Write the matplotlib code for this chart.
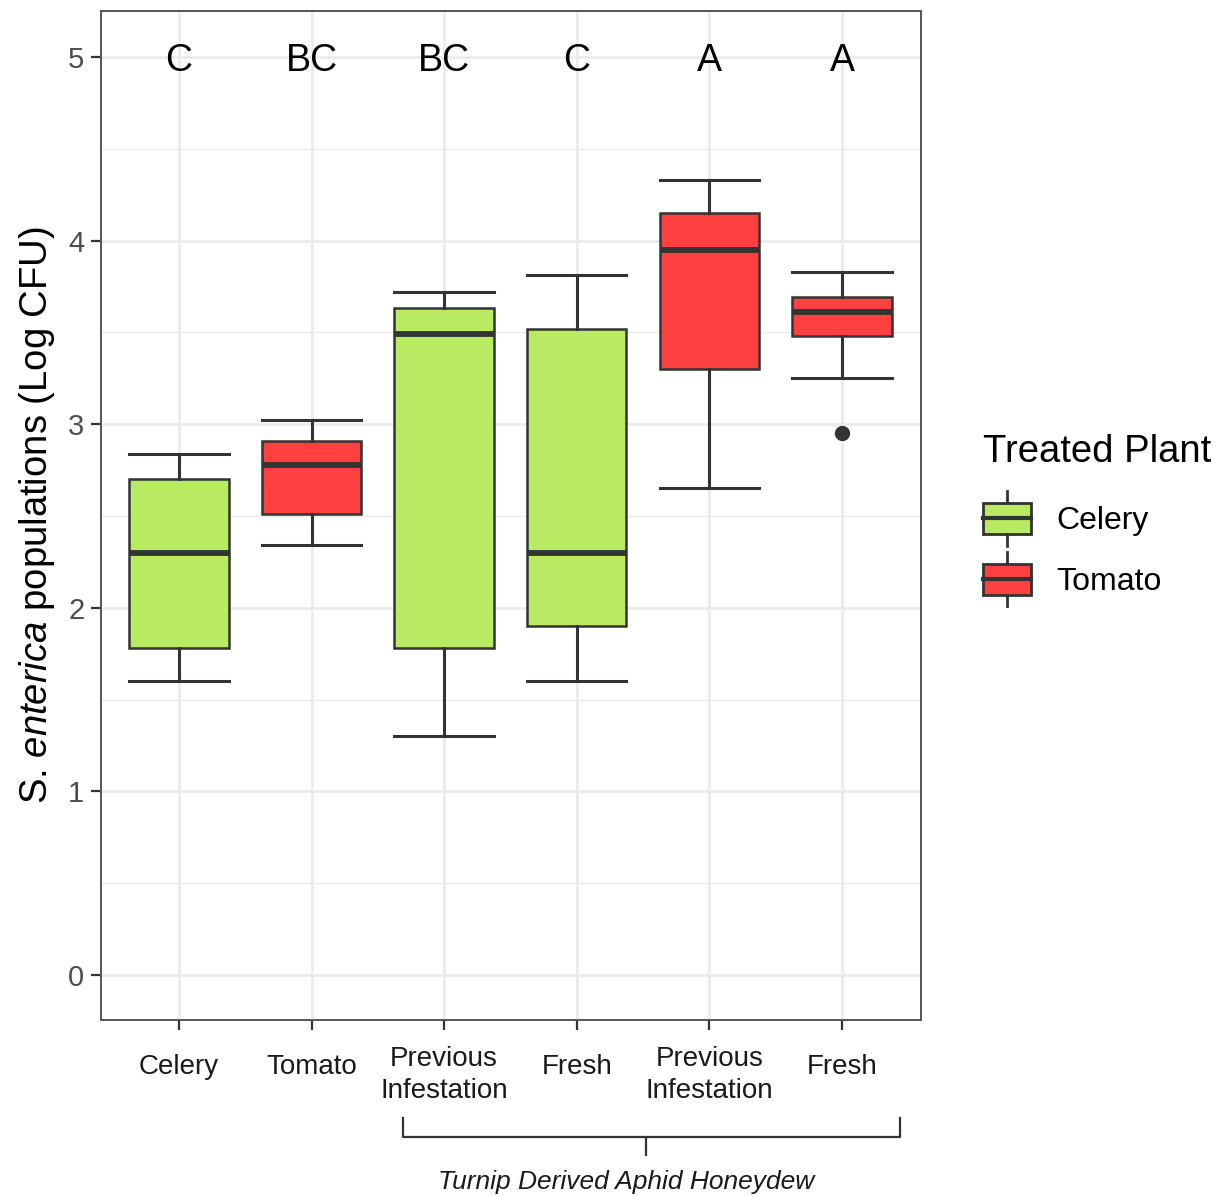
import matplotlib
matplotlib.use("Agg")
import matplotlib.pyplot as plt
from matplotlib.legend_handler import HandlerBase
from matplotlib.patches import Rectangle
from matplotlib.lines import Line2D
from matplotlib.transforms import ScaledTranslation

plt.rcParams['font.family'] = ['Liberation Sans', 'DejaVu Sans']
plt.rcParams['mathtext.fontset'] = 'custom'
plt.rcParams['mathtext.rm'] = 'Liberation Sans'
plt.rcParams['mathtext.it'] = 'Liberation Sans:italic'

# five-number summaries per treatment group
groups = ["Celery", "Tomato", "Previous\nInfestation", "Fresh", "Previous\nInfestation", "Fresh"]
plant = ["Celery", "Tomato", "Celery", "Celery", "Tomato", "Tomato"]
whislo = [1.60, 2.34, 1.30, 1.60, 2.65, 3.25]
q1 = [1.78, 2.51, 1.78, 1.90, 3.30, 3.48]
med = [2.30, 2.78, 3.49, 2.30, 3.95, 3.61]
q3 = [2.70, 2.91, 3.63, 3.52, 4.15, 3.69]
whishi = [2.84, 3.02, 3.72, 3.81, 4.33, 3.83]
fliers = [[], [], [], [], [], [2.95]]
letters = ["C", "BC", "BC", "C", "A", "A"]

COLORS = {"Celery": "#B8EB62", "Tomato": "#FF4040"}
EDGE = "#333333"

fig = plt.figure(figsize=(12.17, 11.96), dpi=100)
ax = fig.add_axes([101 / 1217, 1 - 1020 / 1196, 820 / 1217, 1009 / 1196])

pos = list(range(1, len(groups) + 1))
stats = [dict(med=m, q1=a, q3=b, whislo=lo, whishi=hi, fliers=f)
         for m, a, b, lo, hi, f in zip(med, q1, q3, whislo, whishi, fliers)]

bp = ax.bxp(stats, positions=pos, widths=0.75, capwidths=0.75, patch_artist=True,
            boxprops=dict(edgecolor=EDGE, linewidth=1.8),
            medianprops=dict(color=EDGE, linewidth=4.2, solid_capstyle='butt'),
            whiskerprops=dict(color=EDGE, linewidth=2.2),
            capprops=dict(color=EDGE, linewidth=2.2),
            flierprops=dict(marker='o', markersize=10, markerfacecolor=EDGE,
                            markeredgecolor=EDGE),
            zorder=3)
for box, p in zip(bp['boxes'], plant):
    box.set_facecolor(COLORS[p])

# significance letters
for x, lab in zip(pos, letters):
    ax.text(x, 5, lab, ha='center', va='center_baseline', fontsize=27, color='black')

ax.set_xlim(0.412, 6.596)
ax.set_ylim(-0.245, 5.25)
ax.set_yticks([0, 1, 2, 3, 4, 5])
ax.set_yticks([0.5, 1.5, 2.5, 3.5, 4.5], minor=True)
ax.set_xticks(pos)
ax.set_xticklabels(groups, fontsize=20, color='#1A1A1A', linespacing=1.3,
                   va='center')
ax.tick_params(axis='y', labelsize=21, labelcolor='#4D4D4D', color=EDGE,
               length=7, width=1.6, pad=5)
ax.tick_params(axis='y', which='minor', length=0)
ax.tick_params(axis='x', color=EDGE, length=7, width=1.6, pad=27)
# two-line labels sit a little lower
for lab in ax.get_xticklabels():
    if "\n" in lab.get_text():
        lab.set_transform(lab.get_transform() +
                          ScaledTranslation(0, -0.08, fig.dpi_scale_trans))

ax.grid(True, which='major', color='#EBEBEB', linewidth=2.0, zorder=0)
ax.grid(True, which='minor', axis='y', color='#EBEBEB', linewidth=1.0, zorder=0)
ax.set_axisbelow(True)
for sp in ax.spines.values():
    sp.set_color('#555555')
    sp.set_linewidth(1.4)

ax.set_ylabel(r"S. $\mathit{enterica}$ populations (Log CFU)",
              fontsize=27.5, color='black', labelpad=8)

# bracket grouping the honeydew treatments
br_y = 1 - 1137 / 1196
br_top = 1 - 1118 / 1196
x0, x1, xc = 403 / 1217, 900 / 1217, 646 / 1217
fig.add_artist(Line2D([x0, x0, x1, x1], [br_top, br_y, br_y, br_top],
                      color=EDGE, linewidth=1.6))
fig.add_artist(Line2D([xc, xc], [br_y, 1 - 1155 / 1196], color=EDGE, linewidth=1.6))
fig.text(626 / 1217, 1 - 1182 / 1196, "Turnip Derived Aphid Honeydew",
         style='italic', fontsize=19, ha='center', va='center', color='#1A1A1A')


class BoxKeyHandler(HandlerBase):
    def create_artists(self, legend, orig_handle, xdescent, ydescent, width, height,
                       fontsize, trans):
        fc = orig_handle.get_facecolor()
        cx = width / 2 - xdescent
        h = height
        rect = Rectangle((-xdescent, -ydescent + 0.1 * h), width, 0.8 * h,
                         facecolor=fc, edgecolor=EDGE, linewidth=2.0, transform=trans)
        mid = Line2D([-xdescent, width - xdescent], [-ydescent + h / 2] * 2,
                     color=EDGE, linewidth=3.0, transform=trans)
        top = Line2D([cx, cx], [-ydescent + 0.9 * h, -ydescent + 1.2 * h],
                     color=EDGE, linewidth=2.0, transform=trans)
        bot = Line2D([cx, cx], [-ydescent - 0.2 * h, -ydescent + 0.1 * h],
                     color=EDGE, linewidth=2.0, transform=trans)
        return [rect, mid, top, bot]


handles = [Rectangle((0, 0), 1, 1, facecolor=COLORS[k]) for k in ["Celery", "Tomato"]]
leg = fig.legend(handles, ["Celery", "Tomato"], title="Treated Plant",
                 handler_map={Rectangle: BoxKeyHandler()},
                 loc='upper left', bbox_to_anchor=(970 / 1217, 1 - 421 / 1196),
                 frameon=False, fontsize=23, title_fontsize=27.5,
                 handlelength=1.5, handleheight=1.5, handletextpad=0.8,
                 labelspacing=0.68, borderaxespad=0)
leg._legend_box.align = "left"
leg._legend_box.sep = 21

fig.savefig("out.png", dpi=100)
